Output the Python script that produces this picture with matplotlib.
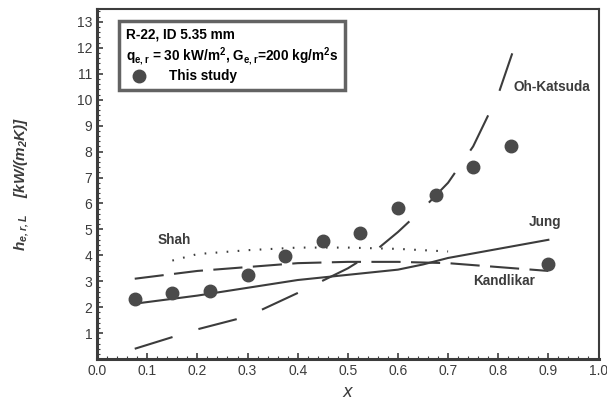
import matplotlib
matplotlib.use("Agg")
import matplotlib.pyplot as plt
from matplotlib.ticker import MultipleLocator

plt.rcParams["font.family"] = ["Liberation Sans", "DejaVu Sans"]
plt.rcParams["mathtext.default"] = "regular"

# measured data (this study)
x_exp = [0.075, 0.15, 0.225, 0.30, 0.375, 0.45, 0.525, 0.60, 0.675, 0.75, 0.825, 0.90]
h_exp = [2.32, 2.55, 2.63, 3.24, 3.98, 4.56, 4.86, 5.83, 6.33, 7.41, 8.22, 3.67]

# correlations
x_shah = [0.15, 0.20, 0.30, 0.40, 0.50, 0.60, 0.70]
h_shah = [3.80, 4.05, 4.20, 4.30, 4.30, 4.25, 4.15]

x_kand = [0.075, 0.20, 0.30, 0.40, 0.50, 0.60, 0.70, 0.80, 0.90]
h_kand = [3.10, 3.40, 3.55, 3.70, 3.75, 3.75, 3.70, 3.55, 3.40]

x_jung = [0.08, 0.20, 0.30, 0.40, 0.50, 0.60, 0.65, 0.70, 0.80, 0.90]
h_jung = [2.15, 2.45, 2.75, 3.05, 3.25, 3.45, 3.65, 3.90, 4.25, 4.60]

x_oh = [0.075, 0.15, 0.20, 0.30, 0.40, 0.50, 0.55, 0.60, 0.65, 0.70, 0.75, 0.80, 0.83]
h_oh = [0.40, 0.85, 1.15, 1.65, 2.55, 3.50, 4.10, 4.90, 5.80, 6.80, 8.20, 10.20, 11.90]

ink = "#3c3c3c"

fig = plt.figure(figsize=(6.07, 4.04), dpi=100)
ax = fig.add_axes([0.160, 0.111, 0.826, 0.867])

ax.plot(x_oh, h_oh, color=ink, lw=1.5, dashes=(19, 13))
ax.plot(x_kand, h_kand, color=ink, lw=1.5, dashes=(14, 5))
ax.plot(x_jung, h_jung, color=ink, lw=1.5)
ax.plot(x_shah, h_shah, color=ink, lw=1.5, dashes=(0.8, 4.5))
pts, = ax.plot(x_exp, h_exp, "o", color="#4a4a4a", ms=9, label="This study")

lab = dict(fontsize=9.8, fontweight="bold", color=ink)
ax.text(0.83, 10.5, "Oh-Katsuda", **lab, va="center")
ax.text(0.86, 5.3, "Jung", **lab, va="center")
ax.text(0.75, 3.0, "Kandlikar", **lab, va="center")
ax.text(0.12, 4.6, "Shah", **lab, va="center")

leg = ax.legend(handles=[pts], loc="upper left", bbox_to_anchor=(0.03, 0.985),
                title="R-22, ID 5.35 mm\nq$_{e,r}$ = 30 kW/m$^2$, G$_{e,r}$=200 kg/m$^2$s",
                alignment="left", fancybox=False, frameon=True, fontsize=9.8,
                title_fontsize=9.8, borderpad=0.5, handletextpad=1.2, labelspacing=0.2)
leg.get_frame().set_edgecolor(ink)
leg.get_frame().set_linewidth(2.5)
leg.get_title().set_fontweight("bold")
for t in leg.get_texts():
    t.set_fontweight("bold")

ax.set_xlim(0, 1.0)
ax.set_ylim(0, 13.5)
ax.xaxis.set_minor_locator(MultipleLocator(0.02))
ax.yaxis.set_minor_locator(MultipleLocator(0.2))
ax.set_yticks(range(1, 14))
ax.set_xticks([i / 10 for i in range(11)])
ax.set_xticklabels(["0.0", "0.1", "0.2", "0.3", "0.4", "0.5", "0.6", "0.7", "0.8", "0.9", "1.0"])
ax.tick_params(which="both", direction="in", colors=ink, labelsize=10)
ax.tick_params(which="major", length=4, width=1.2)
ax.tick_params(which="minor", length=2, width=0.8)
for s in ax.spines.values():
    s.set_color(ink)
ax.spines["left"].set_linewidth(2.2)
ax.spines["bottom"].set_linewidth(2.2)
ax.spines["top"].set_linewidth(1.5)
ax.spines["right"].set_linewidth(1.5)

ax.set_xlabel("$\\it{x}$", fontsize=12, color=ink, family="DejaVu Serif", labelpad=4)
ax.set_ylabel(r"h$_{e,r,L}$    [kW/(m$_2$K)]", fontsize=11, fontweight="bold",
              style="italic", color=ink, labelpad=33)

fig.savefig("out.png", dpi=100)
